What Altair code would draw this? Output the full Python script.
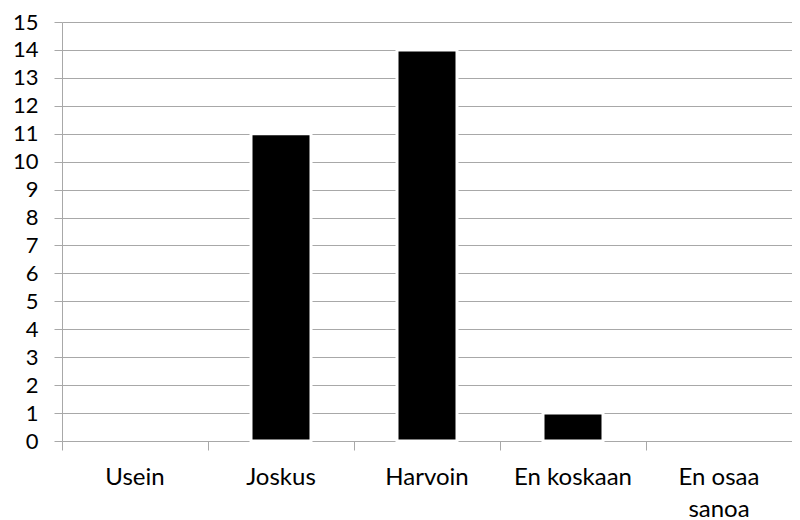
import altair as alt
import pandas as pd

categories = ["Usein", "Joskus", "Harvoin", "En koskaan", "En osaa sanoa"]
values = [0, 11, 14, 1, 0]
y_ticks = list(range(0, 16))

df = pd.DataFrame({"cat": categories, "val": values})

GRID = "#a8a8a8"
FONT = "Lato"

bars = alt.Chart(df).mark_bar(
    color="#000000", stroke="#ffffff", size=60
).encode(
    x=alt.X(
        "cat:N",
        sort=categories,
        title=None,
        scale=alt.Scale(paddingInner=0, paddingOuter=0),
        axis=alt.Axis(
            bandPosition=0,
            ticks=True,
            tickSize=9,
            tickColor=GRID,
            domainColor=GRID,
            grid=False,
            labelAngle=0,
            labelFont=FONT,
            labelFontSize=24,
            labelColor="#000000",
            labelPadding=15,
            labelLineHeight=32,
            labelBaseline="top",
            labelExpr="datum.label == 'En osaa sanoa' ? ['En osaa', 'sanoa'] : datum.label",
        ),
    ),
    y=alt.Y(
        "val:Q",
        title=None,
        scale=alt.Scale(domain=[0, 15], nice=False),
        axis=alt.Axis(
            values=y_ticks,
            grid=True,
            gridColor=GRID,
            domainColor=GRID,
            tickColor=GRID,
            tickSize=8,
            labelFont=FONT,
            labelFontSize=22,
            labelColor="#000000",
            labelPadding=16,
        ),
    ),
    strokeWidth=alt.condition("datum.val > 0", alt.value(3), alt.value(0)),
).properties(
    width=730,
    height=419,
    autosize=alt.AutoSizeParams(type="none"),
    padding={"left": 54, "top": 14, "right": 0, "bottom": 79},
).configure_view(stroke=None)

chart = bars
chart.save("out.html", embed_options={"renderer": "svg", "actions": False})
